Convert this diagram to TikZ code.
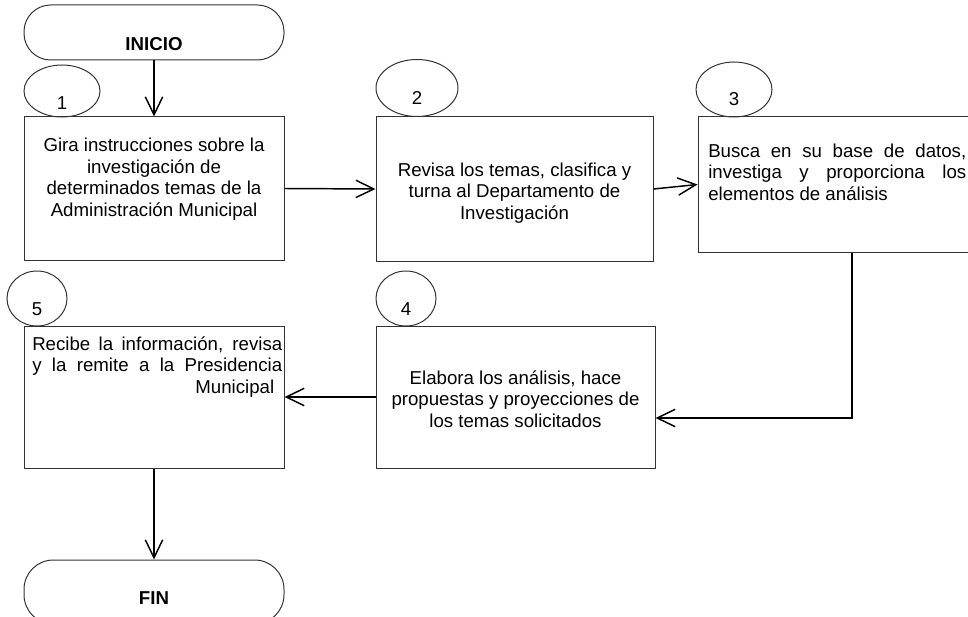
\documentclass[tikz,border=0pt]{standalone}
\usepackage{fontspec}
\setmainfont{Liberation Sans}
\usetikzlibrary{arrows.meta,shapes.geometric}
% one drawing unit = one screen pixel
\newlength\upx
\setlength\upx{0.75pt}
\begin{document}
\begin{tikzpicture}[x=0.75pt,y=-0.75pt,
  every node/.style={font=\fontsize{14}{16.1}\selectfont, inner sep=0pt},
  stepbox/.style={draw=black!80, line width=0.75pt, rectangle},
  terminal/.style={draw=black!80, line width=0.75pt, rectangle, rounded corners=20pt},
  tag/.style={draw=black!80, line width=0.75pt, ellipse},
  flow/.style={draw=black, line width=1.1pt, -{Straight Barb[length=13.5pt,width=13pt]}},
]
\useasboundingbox (0,0) rectangle (968,617);

% start and end terminals
\node[terminal, minimum width=260\upx, minimum height=55\upx] (ini) at (154,32.5) {};
\node (iniT) at (154,44) {\bfseries INICIO};
\node[terminal, rounded corners=22pt, minimum width=260\upx, minimum height=64\upx] (fin) at (154,592) {};
\node (finT) at (154,598) {\bfseries FIN};

% process steps
\node[stepbox, minimum width=260\upx, minimum height=143\upx] (b1) at (154,188.5) {};
\node[stepbox, minimum width=277\upx, minimum height=144\upx] (b2) at (514.5,189) {};
\node[stepbox, minimum width=308\upx, minimum height=135\upx] (b3) at (852,184.5) {};
\node[stepbox, minimum width=279\upx, minimum height=142\upx] (b4) at (515.5,397) {};
\node[stepbox, minimum width=260\upx, minimum height=142\upx] (b5) at (154,397) {};

% step texts
\node[align=center] (t1) at (154,179) {Gira instrucciones sobre la\\investigación de\\determinados temas de la\\Administración Municipal};
\node[align=center] (t2) at (514.5,193) {Revisa los temas, clasifica y\\turna al Departamento de\\Investigación};
\node[anchor=west, align=left] (t3) at (708,172) {\makebox[258\upx][s]{Busca en su base de datos,}\\\makebox[258\upx][s]{investiga y proporciona los}\\elementos de análisis};
\node[align=center] (t4) at (515.5,399) {Elabora los análisis, hace\\propuestas y proyecciones de\\los temas solicitados};
\node[anchor=west, align=left] (t5) at (32,367) {\makebox[250\upx][s]{Recibe la información, revisa}\\\makebox[250\upx][s]{y la remite a la Presidencia}\\\makebox[250\upx][r]{Municipal\hspace*{8\upx}}};

% step numbers
\node[tag, minimum width=76\upx, minimum height=52\upx] (c1) at (62,91) {};
\node (n1) at (62,103) {1};
\node[tag, minimum width=82\upx, minimum height=57\upx] (c2) at (417,88) {};
\node (n2) at (417,98) {2};
\node[tag, minimum width=76\upx, minimum height=55\upx] (c3) at (734,89.5) {};
\node (n3) at (734,99) {3};
\node[tag, minimum width=60\upx, minimum height=55\upx] (c4) at (406,298.5) {};
\node (n4) at (406,309) {4};
\node[tag, minimum width=60\upx, minimum height=55\upx] (c5) at (37,298.5) {};
\node (n5) at (37,309) {5};

% connectors
\coordinate (c34) at (852,418);
\draw[flow] (ini.south) -- (b1.north);
\draw[flow] (b1.east) -- (b2.west);
\draw[flow] (b2.east) -- (b3.west);
\draw[flow] (b3.south) -- (c34) -- (c34 -| b4.east);
\draw[flow] (b4.west) -- (b5.east);
\draw[flow] (b5.south) -- (fin.north);
\end{tikzpicture}
\end{document}
